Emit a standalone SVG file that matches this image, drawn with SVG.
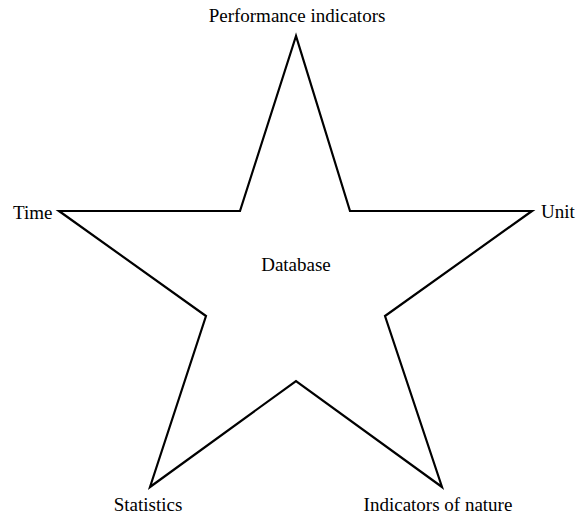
<svg xmlns="http://www.w3.org/2000/svg" width="581" height="523" viewBox="0 0 581 523">
<style>
text { font-family: "Liberation Serif", "Times New Roman", serif; font-size: 19px; fill: #000; }
.star { fill: #fff; stroke: #000; stroke-width: 2.2; stroke-linejoin: miter; }
</style>
<rect width="581" height="523" fill="#fff"/>
<g id="connectors">
<polygon class="star" points="296,36 240,211 59,211 206,316 150,487 296,381 442,487 385,316 532,211 350,211"/>
</g>
<g id="node-database"><text x="296" y="271" text-anchor="middle">Database</text></g>
<g id="node-performance"><text x="297" y="22" text-anchor="middle">Performance indicators</text></g>
<g id="node-time"><text x="13" y="219">Time</text></g>
<g id="node-unit"><text x="541" y="218">Unit</text></g>
<g id="node-statistics"><text x="148" y="511" text-anchor="middle">Statistics</text></g>
<g id="node-nature"><text x="438" y="511" text-anchor="middle">Indicators of nature</text></g>
</svg>
